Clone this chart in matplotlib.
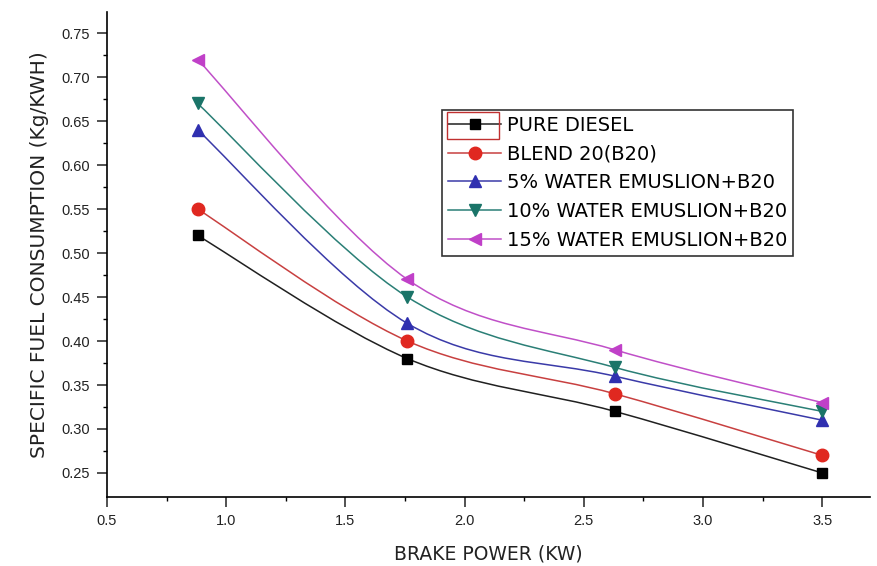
import matplotlib
matplotlib.use("Agg")
import matplotlib.pyplot as plt
from matplotlib.path import Path
from matplotlib.patches import PathPatch, Rectangle
from matplotlib.lines import Line2D
from matplotlib.ticker import MultipleLocator

plt.rcParams['font.family'] = ['Liberation Sans', 'DejaVu Sans']

brake_power = [0.88, 1.76, 2.63, 3.5]
pure_diesel = [0.52, 0.38, 0.32, 0.25]
blend_b20 = [0.55, 0.40, 0.34, 0.27]
water5_b20 = [0.64, 0.42, 0.36, 0.31]
water10_b20 = [0.67, 0.45, 0.37, 0.32]
water15_b20 = [0.72, 0.47, 0.39, 0.33]

labels = ["PURE DIESEL", "BLEND 20(B20)", "5% WATER EMUSLION+B20",
          "10% WATER EMUSLION+B20", "15% WATER EMUSLION+B20"]
series = [pure_diesel, blend_b20, water5_b20, water10_b20, water15_b20]
line_colors = ['#202020', '#c84040', '#3a3aa8', '#2a7f76', '#c050c8']
marker_colors = ['black', '#e02820', '#3030b0', '#1a7468', '#c040c8']
markers = ['s', 'o', '^', 'v', '<']
xticks = [0.5, 1.0, 1.5, 2.0, 2.5, 3.0, 3.5]
yticks = [0.25, 0.30, 0.35, 0.40, 0.45, 0.50, 0.55, 0.60, 0.65, 0.70, 0.75]


def smooth_path(xs, ys):
    # catmull-rom spline turned into cubic bezier segments
    pts = list(zip(xs, ys))
    ext = [pts[0]] + pts + [pts[-1]]
    verts = [pts[0]]
    codes = [Path.MOVETO]
    for i in range(1, len(ext) - 2):
        p0, p1, p2, p3 = ext[i - 1], ext[i], ext[i + 1], ext[i + 2]
        c1 = (p1[0] + (p2[0] - p0[0]) / 6, p1[1] + (p2[1] - p0[1]) / 6)
        c2 = (p2[0] - (p3[0] - p1[0]) / 6, p2[1] - (p3[1] - p1[1]) / 6)
        verts += [c1, c2, p2]
        codes += [Path.CURVE4] * 3
    return Path(verts, codes)


fig = plt.figure(figsize=(8.77, 5.66), dpi=100)
# axes box in pixels: x 107..870, y 12..497
ax = fig.add_axes([107 / 877, (566 - 497) / 566, 763 / 877, 485 / 566])

handles = []
for vals, lab, lc, mc, mk in zip(series, labels, line_colors, marker_colors, markers):
    ax.add_patch(PathPatch(smooth_path(brake_power, vals), fill=False,
                           edgecolor=lc, lw=1.1, zorder=2))
    ms = 7.5 if mk == 's' else 9
    ax.plot(brake_power, vals, linestyle='none', marker=mk, color=mc,
            markersize=ms, zorder=3)
    handles.append(Line2D([], [], color=lc, lw=1.1, marker=mk,
                          markerfacecolor=mc, markeredgecolor=mc,
                          markersize=ms, label=lab))

ax.set_xlim(0.5, 3.7)
ax.set_ylim(0.2227, 0.774)
ax.set_xticks(xticks)
ax.set_yticks(yticks)
ax.xaxis.set_minor_locator(MultipleLocator(0.25))
ax.set_yticks([(a + b) / 2 for a, b in zip(yticks, yticks[1:])], minor=True)
ax.xaxis.set_major_formatter(plt.FormatStrFormatter('%.1f'))
ax.yaxis.set_major_formatter(plt.FormatStrFormatter('%.2f'))

for s in ['top', 'right']:
    ax.spines[s].set_visible(False)
for s in ['left', 'bottom']:
    ax.spines[s].set_linewidth(1.2)
ax.tick_params(which='major', direction='out', length=7, width=1.1,
               labelsize=10.5, colors='#222222', pad=5)
ax.tick_params(which='minor', direction='out', length=3, width=1.0)

ax.set_xlabel("BRAKE POWER (KW)", fontsize=13.5, labelpad=12, color='#222222',
              family=['DejaVu Sans'])
ax.set_ylabel("SPECIFIC FUEL CONSUMPTION (Kg/KWH)", fontsize=14.5, labelpad=9,
              color='#222222', family=['DejaVu Sans'])

leg = ax.legend(handles=handles, loc='upper left', bbox_to_anchor=(0.439, 0.798),
                prop={'family': 'DejaVu Sans', 'size': 14},
                frameon=True, fancybox=False, edgecolor='#333333',
                framealpha=1, handlelength=2.75, handletextpad=0.3,
                labelspacing=0.5, borderpad=0.3, borderaxespad=0)
leg.get_frame().set_linewidth(1.2)

# red selection box round the first legend key, as in the source figure
fig.add_artist(Rectangle((447 / 877, (566 - 139) / 566), 52 / 877, 27 / 566,
                         transform=fig.transFigure, fill=False,
                         edgecolor='#c03030', lw=1.0))

fig.savefig("out.png", dpi=100)
